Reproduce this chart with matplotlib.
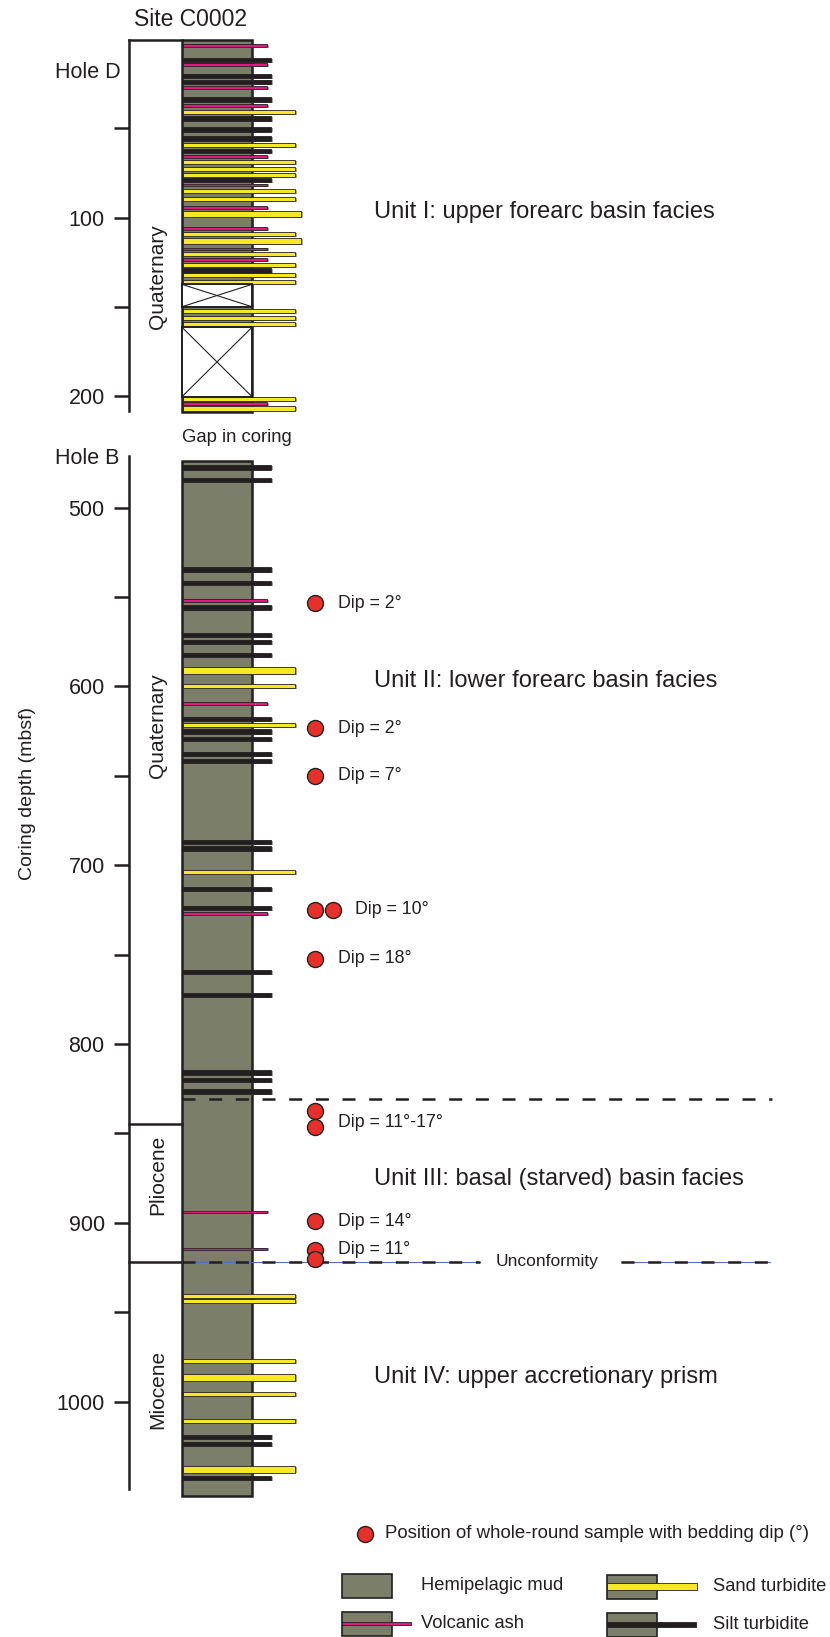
import matplotlib
matplotlib.use('Agg')
import matplotlib.pyplot as plt
from matplotlib.patches import Rectangle
from matplotlib.ticker import FixedLocator, FuncFormatter

plt.rcParams['font.family'] = ['Liberation Sans', 'DejaVu Sans']
plt.rcParams['lines.scale_dashes'] = False

# ---- data (depths in mbsf) ----
# Hole D
D_TOP, D_BOTTOM = 1.0, 209.0
D_DEPTH = [4.0, 12.0, 14.6, 20.8, 24.1, 27.5, 34.0, 37.2, 41.1, 44.6,
           50.7, 55.8, 59.5, 62.8, 66.0, 69.2, 72.7, 76.1, 79.1, 81.8,
           85.4, 89.8, 94.3, 98.0, 106.2, 109.4, 113.1, 117.6, 120.6, 123.6,
           126.4, 129.7, 132.3, 135.9, 152.4, 156.3, 159.5, 201.6, 204.2, 206.8]
D_LITH = ['ash', 'silt', 'ash', 'silt', 'silt', 'ash', 'silt', 'ash', 'sand', 'silt',
          'silt', 'silt', 'sand', 'silt', 'ash', 'sand', 'sand', 'sand', 'silt', 'ash',
          'sand', 'sand', 'ash', 'csand', 'ash', 'sand', 'csand', 'ash', 'sand', 'ash',
          'sand', 'silt', 'sand', 'sand', 'sand', 'sand', 'sand', 'sand', 'ash', 'sand']
D_GAPS = [(137.4, 149.9), (161.4, 200.2)]

# Hole B
B_TOP, B_BOTTOM = 474.0, 1052.6
B_DEPTH = [477.4, 484.5, 534.5, 542.1, 552.0, 555.7, 571.2, 575.1, 582.4, 591.2,
           599.9, 609.6, 618.2, 621.5, 625.1, 629.5, 637.8, 641.7, 687.1, 690.7,
           703.9, 713.4, 723.9, 727.1, 759.8, 772.4, 816.0, 820.1, 826.6, 893.9,
           914.6, 940.9, 943.9, 977.4, 986.6, 995.7, 1010.6, 1019.6, 1023.7, 1037.8,
           1042.8]
B_LITH = ['silt', 'silt', 'silt', 'silt', 'ash', 'silt', 'silt', 'silt', 'silt', 'sand',
          'sand', 'ash', 'silt', 'sand', 'silt', 'silt', 'silt', 'silt', 'silt', 'silt',
          'sand', 'silt', 'silt', 'ash', 'silt', 'silt', 'silt', 'silt', 'silt', 'ash',
          'ash', 'sand', 'sand', 'sand', 'sand', 'sand', 'sand', 'silt', 'silt', 'sand',
          'silt']
B_THICK_SAND = [591.2, 986.6, 1037.8]

# epochs: (name, top, base, label depth)
D_EPOCHS = [('Quaternary', 1.0, 208.0, 133.0)]
B_EPOCHS = [('Quaternary', 471.0, 844.9, 622.0),
            ('Pliocene', 844.9, 921.7, 873.0),
            ('Miocene', 921.7, 1049.0, 993.0)]

# whole-round samples
DIP_DEPTH = [553.5, 623.4, 650.0, 725.0, 725.0, 752.2, 837.3, 846.1, 898.8, 915.2, 920.3]
DIP_SLOT = [0, 0, 0, 0, 1, 0, 0, 0, 0, 0, 0]
DIP_LABELS = ['Dip = 2°', 'Dip = 2°', 'Dip = 7°', 'Dip = 10°', 'Dip = 18°',
              'Dip = 11°-17°', 'Dip = 14°', 'Dip = 11°']
DIP_LABEL_DEPTH = [553.5, 623.4, 650.0, 725.0, 752.2, 843.6, 899.0, 914.8]
DIP_LABEL_SLOT = [0, 0, 0, 1, 0, 0, 0, 0]

UNITS = ['Unit I: upper forearc basin facies',
         'Unit II: lower forearc basin facies',
         'Unit III: basal (starved) basin facies',
         'Unit IV: upper accretionary prism']
UNIT_DEPTH = [97.0, 597.0, 875.5, 986.0]
UNIT_II_III = 830.7
UNCONFORMITY = 921.7

# ---- styling / layout (pixels) ----
W, H = 830, 1637
PX_PER_M = 1.788
COL_L, COL_R = 182, 252
SPINE_X = 129
INK = '#231f20'
MUD = '#7b7f6a'
SHADOW = '#a7a7a2'
COLOR = {'ash': '#e2197f', 'silt': INK, 'sand': '#f6e825', 'csand': '#f6e825'}
EXT = {'ash': 267, 'silt': 271, 'sand': 295, 'csand': 301}
THICK = {'ash': 1.6, 'silt': 2.5, 'sand': 2.3, 'csand': 3.7}
DASH = (0, (9.4, 9.8))

fig = plt.figure(figsize=(W / 100, H / 100), dpi=100)


def depth_axes(px_top, px_bot, ref_depth, ref_px):
    ax = fig.add_axes([0, 1 - px_bot / H, 1, (px_bot - px_top) / H])
    ax.set_xlim(0, W)
    ax.set_ylim(ref_depth + (px_bot - ref_px) / PX_PER_M,
                ref_depth + (px_top - ref_px) / PX_PER_M)
    ax.patch.set_visible(False)
    for s in ['top', 'right', 'bottom']:
        ax.spines[s].set_visible(False)
    ax.spines['left'].set_position(('data', SPINE_X))
    ax.spines['left'].set_linewidth(1.8)
    ax.spines['left'].set_color(INK)
    ax.set_xticks([])
    ax.yaxis.set_major_formatter(FuncFormatter(lambda v, p: f'{v:.0f}' if v % 100 == 0 else ''))
    ax.tick_params(axis='y', direction='out', length=10.5, width=1.8, color=INK,
                   labelsize=15.5, labelcolor=INK, pad=7)
    return ax


def draw_hole(ax, top, bottom, depths, liths, thick_sands, gaps):
    ax.add_patch(Rectangle((COL_L, top), COL_R - COL_L, bottom - top,
                           fc=MUD, ec=INK, lw=1.8, zorder=2))
    for d, l in zip(depths, liths):
        t = 3.7 if d in thick_sands else THICK[l]
        ax.add_patch(Rectangle((COL_L + 2.5, d - t / 2 + 0.5), EXT[l] - COL_L - 1, t,
                               fc=SHADOW, ec='none', zorder=2.5))
        ax.add_patch(Rectangle((COL_L + 1, d - t / 2), EXT[l] - COL_L - 1, t,
                               fc=COLOR[l], ec=INK, lw=0.6, zorder=3))
    for g0, g1 in gaps:
        ax.add_patch(Rectangle((COL_L, g0), COL_R - COL_L, g1 - g0,
                               fc='white', ec=INK, lw=1.4, zorder=4))
        ax.plot([COL_L, COL_R], [g0, g1], color=INK, lw=0.8, zorder=4)
        ax.plot([COL_L, COL_R], [g1, g0], color=INK, lw=0.8, zorder=4)


def draw_epochs(ax, epochs, top_line):
    if top_line:
        ax.plot([SPINE_X, COL_L], [epochs[0][1]] * 2, color=INK, lw=1.8)
    for i, (name, top, base, lab) in enumerate(epochs):
        if i > 0:
            ax.plot([SPINE_X, COL_L], [top] * 2, color=INK, lw=1.8)
        ax.text((SPINE_X + COL_L) / 2 + 2, lab, name, rotation=90, ha='center',
                va='center', fontsize=15, color=INK)


# Hole D
axD = depth_axes(0, 420, 100, 217.5)
axD.spines['left'].set_bounds(D_EPOCHS[0][1], D_EPOCHS[0][2])
axD.yaxis.set_major_locator(FixedLocator([50, 100, 150, 200]))
draw_hole(axD, D_TOP, D_BOTTOM, D_DEPTH, D_LITH, [], D_GAPS)
draw_epochs(axD, D_EPOCHS, True)
axD.text(374, UNIT_DEPTH[0], UNITS[0], fontsize=17, color=INK, va='center')

# Hole B
axB = depth_axes(420, H, 500, 507.7)
axB.spines['left'].set_bounds(B_EPOCHS[0][1], B_EPOCHS[-1][2])
axB.yaxis.set_major_locator(FixedLocator(list(range(500, 1001, 50))))
draw_hole(axB, B_TOP, B_BOTTOM, B_DEPTH, B_LITH, B_THICK_SAND, [])
draw_epochs(axB, B_EPOCHS, False)
for txt, d in zip(UNITS[1:], UNIT_DEPTH[1:]):
    axB.text(374, d, txt, fontsize=17, color=INK, va='center')

# unit boundary and unconformity
axB.plot([COL_L, 772], [UNIT_II_III] * 2, color=INK, lw=1.8, linestyle=DASH, zorder=5)
axB.plot([COL_L, 480], [UNCONFORMITY] * 2, color='#4f6fd0', lw=0.8, zorder=5)
axB.plot([621, 770], [UNCONFORMITY] * 2, color='#4f6fd0', lw=0.8, zorder=5)
axB.plot([COL_L, 480], [UNCONFORMITY] * 2, color=INK, lw=1.8, linestyle=DASH, zorder=5)
axB.plot([621, 770], [UNCONFORMITY] * 2, color=INK, lw=1.8, linestyle=DASH, zorder=5)
axB.text(547, UNCONFORMITY, 'Unconformity', fontsize=12.5, color=INK,
         ha='center', va='center')

# dip samples
for d, s in zip(DIP_DEPTH, DIP_SLOT):
    axB.plot(314.5 + 18.5 * s, d, 'o', ms=11.5, mfc='#e8302a', mec=INK, mew=1.0, zorder=6)
for txt, d, s in zip(DIP_LABELS, DIP_LABEL_DEPTH, DIP_LABEL_SLOT):
    axB.text(338 + 17 * s, d, txt, fontsize=12.8, color=INK, va='center')

# overlay in pixel coords for titles and legend
ov = fig.add_axes([0, 0, 1, 1])
ov.set_xlim(0, W)
ov.set_ylim(H, 0)
ov.axis('off')
ov.patch.set_visible(False)

ov.text(190, 19, 'Site C0002', fontsize=16.5, color=INK, ha='center', va='center')
ov.text(55, 72, 'Hole D', fontsize=15.5, color=INK, va='center')
ov.text(55, 459, 'Hole B', fontsize=15.5, color=INK, va='center')
ov.text(COL_L, 437, 'Gap in coring', fontsize=13.3, color=INK, va='center')
ov.text(27, 793, 'Coring depth (mbsf)', fontsize=14, color=INK, rotation=90,
        ha='center', va='center')

# legend
ov.plot(364.5, 1533.5, 'o', ms=11.5, mfc='#e8302a', mec=INK, mew=1.0)
ov.text(385, 1533.5, 'Position of whole-round sample with bedding dip (°)',
        fontsize=13.4, color=INK, va='center')

legend_items = [('Hemipelagic mud', 342, 1574, None),
                ('Volcanic ash', 342, 1612, 'ash'),
                ('Sand turbidite', 607, 1575, 'sand'),
                ('Silt turbidite', 607, 1613, 'silt')]
for label, x0, y0, lith in legend_items:
    ov.add_patch(Rectangle((x0, y0), 50, 24, fc=MUD, ec=INK, lw=1.2))
    if lith == 'ash':
        ov.add_patch(Rectangle((x0, y0 + 10), 69, 3, fc=COLOR['ash'], ec=INK, lw=0.6))
    elif lith == 'sand':
        ov.add_patch(Rectangle((x0, y0 + 8), 90, 7, fc=COLOR['sand'], ec=INK, lw=0.6))
    elif lith == 'silt':
        ov.add_patch(Rectangle((x0, y0 + 9), 89, 4.5, fc=INK, ec=INK, lw=0.6))
    tx = 421 if x0 < 500 else 713
    ov.text(tx, y0 + 11.5, label, fontsize=13.2, color=INK, va='center')

fig.savefig('out.png', dpi=100)
